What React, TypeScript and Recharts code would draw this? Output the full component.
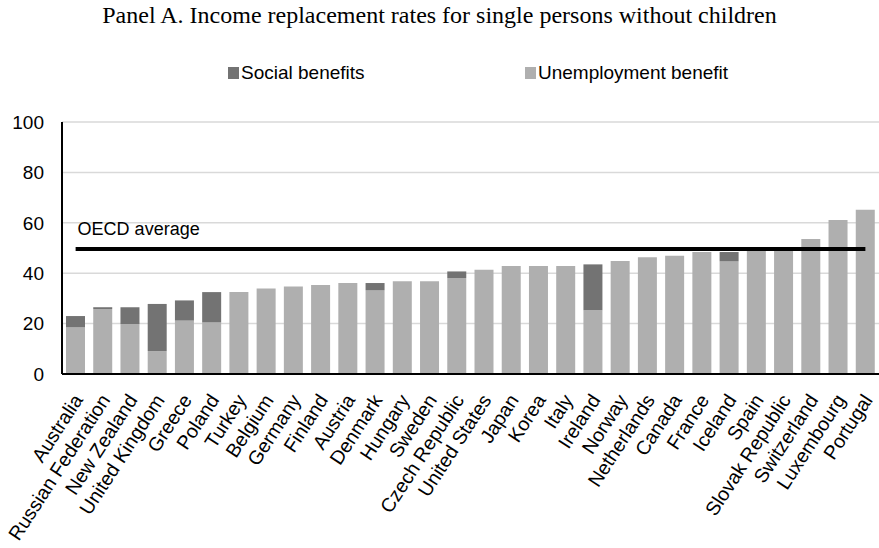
import React from "react";
import {
  ComposedChart,
  Bar,
  Line,
  LabelList,
  XAxis,
  YAxis,
  CartesianGrid,
} from "recharts";

const countries = [
  "Australia", "Russian Federation", "New Zealand", "United Kingdom", "Greece",
  "Poland", "Turkey", "Belgium", "Germany", "Finland",
  "Austria", "Denmark", "Hungary", "Sweden", "Czech Republic",
  "United States", "Japan", "Korea", "Italy", "Ireland",
  "Norway", "Netherlands", "Canada", "France", "Iceland",
  "Spain", "Slovak Republic", "Switzerland", "Luxembourg", "Portugal",
];

// unemployment benefit share (bottom of each stack)
const unemploymentBenefit = [
  18.5, 25.8, 19.8, 9.1, 21.2,
  20.5, 32.5, 33.9, 34.7, 35.3,
  36.1, 33.3, 36.8, 36.8, 38.1,
  41.4, 42.9, 42.9, 42.9, 25.3,
  44.8, 46.3, 46.9, 48.4, 44.8,
  49.2, 49.2, 53.6, 61.1, 65.2,
];

// social benefits topping up the unemployment benefit
const socialBenefits = [
  4.5, 0.7, 6.7, 18.7, 8.0,
  12.0, 0, 0, 0, 0,
  0, 2.8, 0, 0, 2.6,
  0, 0, 0, 0, 18.2,
  0, 0, 0, 0, 3.6,
  0, 0, 0, 0, 0,
];

const OECD_AVERAGE = 49.6;
const yTicks = [0, 20, 40, 60, 80, 100];

const data = countries.map((country, i) => ({
  country,
  unemployment: unemploymentBenefit[i],
  social: socialBenefits[i],
  oecd: OECD_AVERAGE,
}));

const SANS = '"Liberation Sans", Arial, sans-serif';
const DARK = "#737373";
const LIGHT = "#afafaf";

const CountryTick = ({ x, y, payload }: any) => (
  <text
    transform={`translate(${x + 8},${y + 24}) rotate(-57)`}
    textAnchor="end"
    fontSize={19.5}
    fontFamily={SANS}
    fill="#000"
  >
    {payload.value}
  </text>
);

const OecdLabel = ({ x, y, index }: any) =>
  index === 0 ? (
    <text x={x + 2} y={y - 14} fontSize={18} fontFamily={SANS} fill="#000">
      OECD average
    </text>
  ) : null;

const LegendItem = ({ color, label, left }: { color: string; label: string; left: number }) => (
  <div style={{ position: "absolute", left, top: 62, display: "flex", alignItems: "center" }}>
    <span style={{ width: 11, height: 12, background: color, marginRight: 2 }} />
    <span style={{ fontSize: 19, fontFamily: SANS }}>{label}</span>
  </div>
);

export default function App() {
  return (
    <div style={{ position: "absolute", left: 0, top: 0, width: 879, height: 548, background: "#fff" }}>
      <div
        style={{
          position: "absolute",
          top: 2,
          width: 879,
          textAlign: "center",
          fontFamily: '"Liberation Serif", "Times New Roman", serif',
          fontSize: 24,
        }}
      >
        Panel A. Income replacement rates for single persons without children
      </div>
      <LegendItem color={DARK} label="Social benefits" left={228} />
      <LegendItem color={LIGHT} label="Unemployment benefit" left={525} />
      <ComposedChart
        width={879}
        height={548}
        data={data}
        margin={{ top: 122, right: 0, bottom: 0, left: 0 }}
        barSize={19}
      >
        <CartesianGrid vertical={false} stroke="#d9d9d9" strokeWidth={1.5} />
        <XAxis
          dataKey="country"
          interval={0}
          height={174}
          tickLine={false}
          tickSize={0}
          axisLine={{ stroke: "#000", strokeWidth: 2 }}
          tick={<CountryTick />}
        />
        <YAxis
          width={62}
          domain={[0, 100]}
          ticks={yTicks}
          tickLine={false}
          tickSize={0}
          tickMargin={18}
          axisLine={{ stroke: "#000", strokeWidth: 2 }}
          tick={{ fontSize: 19, fontFamily: SANS, fill: "#000" }}
        />
        <Bar dataKey="unemployment" stackId="rate" fill={LIGHT} isAnimationActive={false} />
        <Bar dataKey="social" stackId="rate" fill={DARK} isAnimationActive={false} />
        <Line
          dataKey="oecd"
          stroke="#000"
          strokeWidth={4}
          dot={false}
          activeDot={false}
          isAnimationActive={false}
        >
          <LabelList dataKey="oecd" content={<OecdLabel />} />
        </Line>
      </ComposedChart>
    </div>
  );
}
